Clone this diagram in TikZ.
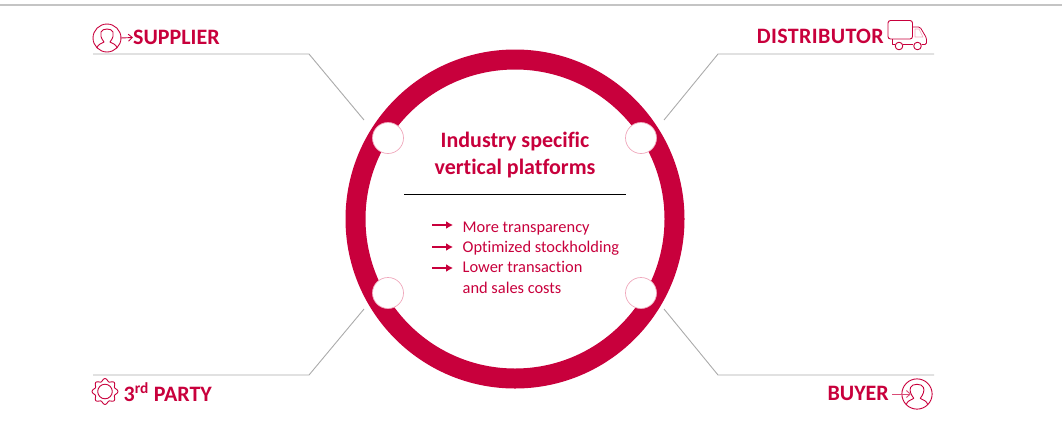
\documentclass[tikz,border=0pt]{standalone}
\usepackage{fontspec}
\setmainfont[Ligatures=NoCommon]{Carlito}
\usetikzlibrary{arrows.meta}
\definecolor{crim}{HTML}{C8003C}
\definecolor{rule}{HTML}{ABABAB}
\definecolor{pale}{HTML}{F0A8BC}
\tikzset{
  x=1pt,y=-1pt,
  hub/.style={circle,draw=pale,line width=.7pt,fill=white,minimum size=31pt,inner sep=0pt},
  leader/.style={draw=rule,line width=.9pt},
  role/.style={text=crim,font=\fontsize{22}{24}\selectfont\bfseries,inner sep=0pt},
  item/.style={text=crim,font=\fontsize{16.4}{20}\selectfont,inner sep=0pt,anchor=base west,align=left},
  itemarrow/.style={draw=crim,line width=2pt,-{Latex[length=7pt,width=8pt]}},
  icon/.style={draw=crim,line width=.9pt,line join=round},
  thinarrow/.style={icon,-{Straight Barb[length=4pt,width=7pt]}}
}
\newcommand{\personicon}[3]{%
  \begin{scope}[shift={(#1,#2)},scale=#3]
    \draw[icon] (0,0) circle (14);
    \draw[icon] (-10,10) .. controls (-9,6) and (-6,6) .. (-3,4) .. controls (-6,0) and (-7,-3) .. (-6,-6)
      .. controls (-5,-10) and (5,-10) .. (6,-6) .. controls (7,-3) and (6,0) .. (3,4)
      .. controls (6,6) and (9,6) .. (10,10);
  \end{scope}}
\begin{document}
\begin{tikzpicture}
\useasboundingbox (0,0) rectangle (1062,421);
\draw[draw=rule!70,line width=1.2pt] (0,5) -- (1062,5);
% ring
\draw[crim,line width=20pt] (515,219) circle (159.5);
% hubs
\node[hub] (hubA) at (388,138) {};
\node[hub] (hubB) at (641,138) {};
\node[hub] (hubC) at (388,293) {};
\node[hub] (hubD) at (641,293) {};
% leaders
\coordinate (a0) at (93,54);  \coordinate (a1) at (309,54);  \coordinate (a2) at (364,120);
\coordinate (b0) at (934,54); \coordinate (b1) at (718,54);  \coordinate (b2) at (664,120);
\coordinate (c0) at (93,375); \coordinate (c1) at (309,375); \coordinate (c2) at (364,309);
\coordinate (d0) at (934,375);\coordinate (d1) at (718,375); \coordinate (d2) at (664,309);
\draw[leader] (a0) -- (a1) -- (a2);
\draw[leader] (b0) -- (b1) -- (b2);
\draw[leader] (c0) -- (c1) -- (c2);
\draw[leader] (d0) -- (d1) -- (d2);
% labels
\node[role,anchor=west] (sup) at (133,37.5) {SUPPLIER};
\node[role,anchor=east] (dis) at (884,36.5) {\addfontfeature{LetterSpace=1.6}DISTRIBUTOR};
\node[role,anchor=west] (thi) at (123.5,392) {3\textsuperscript{rd} PARTY};
\node[role,anchor=east] (buy) at (889,393.5) {BUYER};
% icons
\personicon{107}{38}{1}
\coordinate (sa) at (120.5,38);
\draw[thinarrow] (sa) -- (sup.west);
\personicon{917}{394}{1.08}
\coordinate (ba) at (892,394);
\coordinate (bb) at (911,394);
\draw[thinarrow,draw=crim!70] (ba) -- (bb);
% truck
\draw[icon,rounded corners=2.5pt] (888,20.5) rectangle (912.5,39);
\draw[icon,line width=.8pt] (892,39) -- (892,44.5) -- (895,44.5);
\draw[icon,line width=.8pt] (903,44.5) -- (913,44.5);
\draw[icon,line width=.8pt,rounded corners=1.5pt] (913,27) -- (920,27) -- (926.5,38) -- (926.5,44.5) -- (921.5,44.5);
\draw[draw=pale,line width=.6pt] (915,29) -- (919,29) -- (923,37) -- (915,37) -- cycle;
\draw[icon] (899,46) circle (3.8);
\draw[icon] (917.5,46) circle (3.8);
% gear
\begin{scope}[shift={(105,391.5)}]
  \draw[icon] plot[domain=0:360,samples=145,smooth] (\x:{11.6+1.3*cos(8*\x)});
  \draw[icon] (0,0) circle (7.3);
\end{scope}
% centre text
\node[text=crim,font=\fontsize{22}{26.5}\selectfont\bfseries,align=center,inner sep=0pt] (title) at (515,155) {Industry specific\\vertical platforms};
\coordinate (r0) at (404,194.5); \coordinate (r1) at (626,194.5);
\draw[black,line width=1.7pt] (r0) -- (r1);
\node[item] (i1) at (462.5,232) {More transparency};
\node[item] (i2) at (462.5,252.5) {Optimized stockholding};
\node[item] (i3) at (462.5,272) {Lower transaction};
\node[item] (i4) at (462.5,293) {and sales costs};
\coordinate (p1) at (432,225); \coordinate (q1) at (453,225);
\coordinate (p2) at (432,247); \coordinate (q2) at (453,247);
\coordinate (p3) at (432,268); \coordinate (q3) at (453,268);
\draw[itemarrow] (p1) -- (q1);
\draw[itemarrow] (p2) -- (q2);
\draw[itemarrow] (p3) -- (q3);
\end{tikzpicture}
\end{document}
